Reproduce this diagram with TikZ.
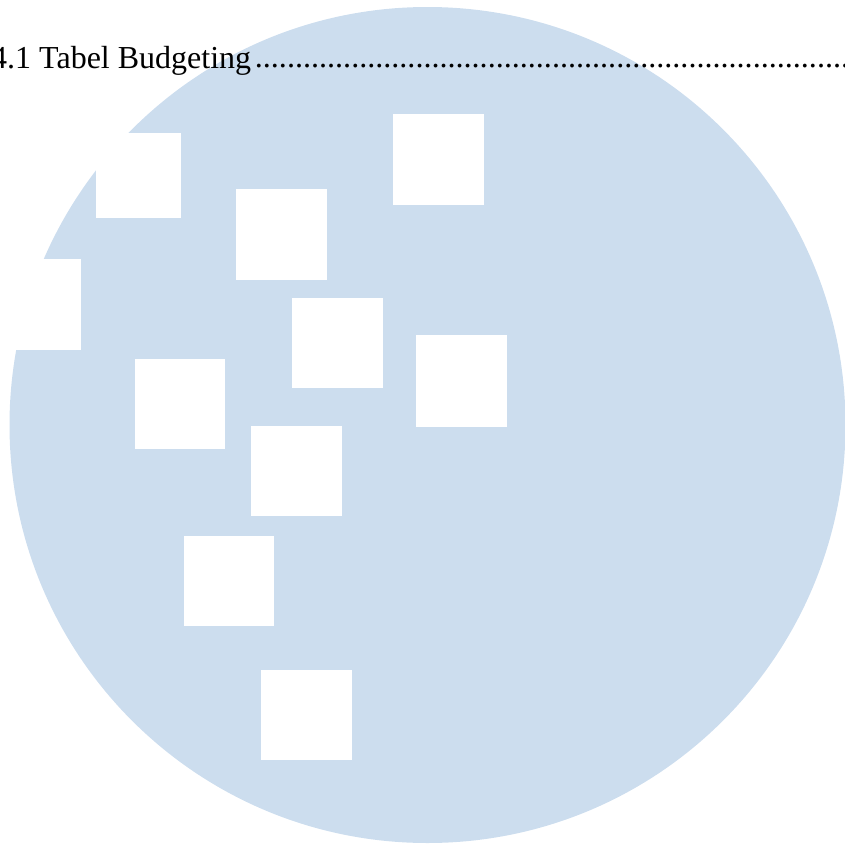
\documentclass[tikz,border=0pt]{standalone}
\usepackage{fontspec}
\setmainfont{Liberation Serif}
\definecolor{disc}{HTML}{CCDDEE}
\tikzset{hole/.style={fill=white,draw=none}}
\begin{document}
\begin{tikzpicture}[x=1pt,y=-1pt]
\useasboundingbox (0,0) rectangle (845,846);
\clip (0,0) rectangle (845,846);
\fill[disc] (427.5,425) circle (418);
\fill[hole] (96,133) rectangle (181,218);
\fill[hole] (235.5,189) rectangle (327,280);
\fill[hole] (393,114) rectangle (484,205);
\fill[hole] (0,259) rectangle (81,350);
\fill[hole] (292,298) rectangle (383,388);
\fill[hole] (415.5,335) rectangle (507,427);
\fill[hole] (135,359) rectangle (225,449);
\fill[hole] (251,426) rectangle (342,516);
\fill[hole] (184,536) rectangle (274,626);
\fill[hole] (261,670) rectangle (352,760);
\node[anchor=base west,inner sep=0pt,font=\fontsize{32}{38}\selectfont] (t) at (-9,68) {4.1 Tabel Budgeting};
\node[anchor=base west,inner sep=0pt,font=\fontsize{32.12}{38}\selectfont] (d) at (254.7,67.5) {\foreach \i in {1,...,74}{.}};
\end{tikzpicture}
\end{document}
